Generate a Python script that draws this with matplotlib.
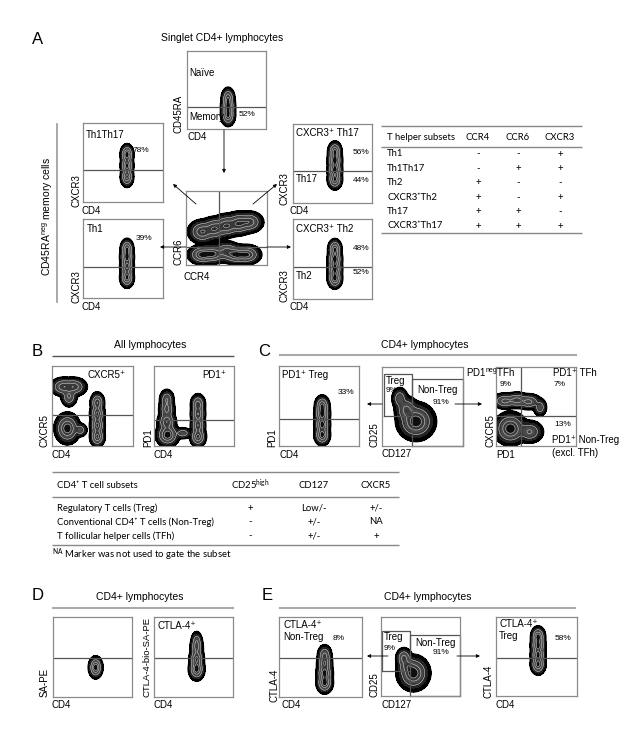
import numpy as np
import matplotlib
matplotlib.use("Agg")
import matplotlib.pyplot as plt

# ---- data: cell populations, (x, y, sx, sy, weight) in channel units 0-100 ----
pop_cd45ra = [(52, 18, 3.1, 4.8, 1.0), (52, 29, 3.1, 4.8, 1.0), (52, 39, 2.9, 4.8, 0.8)]
pop_ccr = [(20, 45, 6, 5.5, 0.8), (35, 49, 6, 5.5, 0.8), (50, 53, 6, 5.5, 0.8), (65, 56, 6, 5.5, 0.8),
           (78, 58, 6, 5, 0.7), (20, 14, 6, 4.5, 1.0), (33, 15, 6, 4.5, 0.9), (50, 18, 6, 5, 0.6),
           (62, 14, 6, 4.5, 0.9), (75, 14, 6, 4.5, 0.9)]
pop_th1th17 = [(55, 32, 2.8, 4.4, 0.8), (55, 46, 2.8, 4.4, 0.9), (55, 60, 2.8, 4.4, 1.0)]
pop_th1 = [(55, 26, 3.0, 4.4, 0.9), (55, 40, 3.0, 4.4, 0.8), (55, 52, 3.0, 4.4, 0.9), (55, 62, 2.8, 4.4, 0.8)]
pop_th17 = [(53, 30, 3.2, 4.4, 0.8), (53, 42, 3.2, 4.4, 0.9), (53, 54, 3.2, 4.4, 0.9), (53, 65, 3.0, 4.4, 0.8)]
pop_th2 = [(53, 26, 3.2, 4.4, 0.9), (53, 38, 3.2, 4.4, 0.9), (53, 50, 3.2, 4.4, 0.9), (53, 62, 3.0, 4.4, 0.8)]
pop_cxcr5_all = [(14, 74, 5.5, 4, 0.65), (27, 74, 5.5, 4, 0.65), (21, 62, 3.5, 4.5, 0.45),
                 (19, 22, 5.3, 6.5, 1.0), (35, 20, 3, 3, 0.3),
                 (56, 12, 3.2, 4.5, 0.8), (56, 26, 3.2, 4.5, 0.8), (56, 40, 3.2, 4.5, 0.8), (56, 54, 3.0, 4.5, 0.7)]
pop_pd1_all = [(17, 14, 5, 5, 1.0), (16, 30, 4, 5, 0.7), (16, 46, 3.5, 5, 0.5), (16, 58, 3.2, 4.5, 0.4),
               (55, 12, 3.5, 4.5, 0.8), (55, 26, 3.2, 4.5, 0.7), (55, 40, 3.2, 4.5, 0.7), (55, 52, 3.2, 4.5, 0.6),
               (36, 16, 4, 2.5, 0.3)]
pop_pd1_treg = [(54, 14, 3.4, 4.5, 0.9), (54, 27, 3.4, 4.5, 0.9), (54, 40, 3.4, 4.5, 0.9), (54, 50, 3.2, 4.5, 0.8)]
pop_cd25_c = [(42, 31, 8, 8, 1.0), (30, 46, 5, 6, 0.5), (22, 60, 3.5, 5, 0.35)]
pop_tfh = [(11, 57, 5.5, 3.5, 0.5), (26, 58, 5.5, 3.5, 0.55), (41, 56, 5.5, 3.5, 0.5), (55, 49, 3, 4, 0.3),
           (18, 22, 7, 7, 1.0), (42, 18, 6, 5, 0.45)]
pop_sape = [(54, 37, 3.0, 4.6, 1.0)]
pop_ctla4_bio = [(54, 35, 3.4, 4.8, 1.0), (54, 48, 3.2, 4.8, 0.8), (54, 62, 2.9, 4.8, 0.5), (54, 70, 2.5, 4.3, 0.3)]
pop_ctla4_conv = [(55, 18, 3.4, 4.6, 1.0), (55, 30, 3.4, 4.6, 0.9), (55, 42, 3.2, 4.6, 0.7), (55, 52, 3.0, 4.6, 0.5)]
pop_cd25_e = [(41, 29, 7, 7.5, 1.0), (29, 48, 3.5, 4.5, 0.55), (33, 38, 4.5, 4.5, 0.4)]
pop_ctla4_treg = [(52, 40, 3.2, 4.4, 0.9), (52, 52, 3.2, 4.4, 0.9), (52, 64, 3.2, 4.4, 0.9), (52, 75, 3.0, 4.4, 1.0)]

# gates (channel units)
gate_cd45ra = 28
gate_ccr4, gate_ccr6 = 41, 24
gate_cxcr3 = [40.5, 39, 40.5, 40]
gate_cxcr5_all, gate_pd1_all, gate_pd1_treg = 39, 32.5, 34
gate_treg_c = (2.5, 38, 37, 91)       # x0, y0, x1, y1
gate_nontreg_c = (37, 0, 100, 85)
gate_tfh_pd1, gate_tfh_cxcr5 = 31, 38
gate_ctla4 = [49, 49, 49, 48]
gate_treg_e = (1, 32, 37, 82)
gate_nontreg_e = (37, 0, 100, 77)

# tables
th_subsets = ["Th1", "Th1Th17", "Th2", "CXCR3\u207aTh2", "Th17", "CXCR3\u207aTh17"]
th_ccr4 = ["-", "-", "+", "+", "+", "+"]
th_ccr6 = ["-", "+", "-", "-", "+", "+"]
th_cxcr3 = ["+", "+", "-", "+", "-", "+"]
cd4_subsets = ["Regulatory T cells (Treg)", "Conventional CD4\u207a T cells (Non-Treg)",
               "T follicular helper cells (TFh)"]
cd4_cd25high = ["+", "-", "-"]
cd4_cd127 = ["Low/-", "+/-", "+/-"]
cd4_cxcr5 = ["+/-", "NA", "+"]

W, H = 642, 756
plt.rcParams["font.family"] = ["Liberation Sans", "DejaVu Sans"]
fig = plt.figure(figsize=(W / 100, H / 100), dpi=100)

BOX = "#8a8a8a"
GATE = "#555555"
FILLS = ["#000000", "#222222", "#3a3a3a", "#4a4a4a", "#444444", "#383838", "#262626", "#0e0e0e"]
LEVELS = [0.006, 0.04, 0.12, 0.25, 0.4, 0.55, 0.7, 0.85, 1.01]


def flow_axes(x0, y0, x1, y1):
    ax = fig.add_axes([x0 / W, 1 - y1 / H, (x1 - x0) / W, (y1 - y0) / H])
    ax.set_xlim(0, 100)
    ax.set_ylim(0, 100)
    ax.set_xticks([])
    ax.set_yticks([])
    ax.set_facecolor("none")
    for s in ax.spines.values():
        s.set_color(BOX)
        s.set_linewidth(0.9)
    return ax


def draw_pop(ax, pops):
    g = np.linspace(0, 100, 260)
    X, Y = np.meshgrid(g, g)
    Z = np.zeros_like(X)
    for x, y, sx, sy, w in pops:
        Z += w * np.exp(-((X - x) ** 2 / (2 * sx ** 2) + (Y - y) ** 2 / (2 * sy ** 2)))
    Z /= Z.max()
    ax.contourf(X, Y, Z, levels=LEVELS, colors=FILLS)
    ax.contour(X, Y, Z, levels=[LEVELS[2], LEVELS[4], LEVELS[6]], colors="#dddddd", linewidths=0.35)
    ax.contour(X, Y, Z, levels=LEVELS[:1], colors="black", linewidths=0.9)


def gate_rect(ax, r):
    x0, y0, x1, y1 = r
    ax.plot([x0, x0, x1, x1, x0], [y0, y1, y1, y0, y0], color=GATE, lw=0.9, clip_on=False)


# ---- panel A ----
ax = flow_axes(187, 51, 266, 129)
draw_pop(ax, pop_cd45ra)
ax.axhline(gate_cd45ra, color=GATE, lw=0.9)

ax = flow_axes(186, 191, 267, 265)
draw_pop(ax, pop_ccr)
ax.axhline(gate_ccr6, color=GATE, lw=0.9)
ax.axvline(gate_ccr4, color=GATE, lw=0.9)

boxes_a = [(83, 123, 163, 202), (83, 219, 163, 298), (293, 124, 372, 203), (293, 219, 372, 299)]
pops_a = [pop_th1th17, pop_th1, pop_th17, pop_th2]
for b, p, gy in zip(boxes_a, pops_a, gate_cxcr3):
    ax = flow_axes(*b)
    draw_pop(ax, p)
    ax.axhline(gy, color=GATE, lw=0.9)

# ---- panel B / C ----
ax = flow_axes(52, 366, 133, 446)
draw_pop(ax, pop_cxcr5_all)
ax.axhline(gate_cxcr5_all, color=GATE, lw=0.9)

ax = flow_axes(154, 366, 234, 446)
draw_pop(ax, pop_pd1_all)
ax.axhline(gate_pd1_all, color=GATE, lw=0.9)

ax = flow_axes(279, 366, 359, 446)
draw_pop(ax, pop_pd1_treg)
ax.axhline(gate_pd1_treg, color=GATE, lw=0.9)

ax = flow_axes(382, 367, 463, 446)
draw_pop(ax, pop_cd25_c)
gate_rect(ax, gate_treg_c)
gate_rect(ax, gate_nontreg_c)

ax = flow_axes(496, 367, 576, 446)
draw_pop(ax, pop_tfh)
ax.axhline(gate_tfh_cxcr5, color=GATE, lw=0.9)
ax.axvline(gate_tfh_pd1, color=GATE, lw=0.9)

# ---- panel D / E ----
boxes_de = [(53, 617, 132, 697), (154, 617, 233, 697), (279, 617, 362, 697), (496, 617, 577, 696)]
pops_de = [pop_sape, pop_ctla4_bio, pop_ctla4_conv, pop_ctla4_treg]
for b, p, gy in zip(boxes_de, pops_de, gate_ctla4):
    ax = flow_axes(*b)
    draw_pop(ax, p)
    ax.axhline(gy, color=GATE, lw=0.9)

ax = flow_axes(381, 617, 460, 696)
draw_pop(ax, pop_cd25_e)
gate_rect(ax, gate_treg_e)
gate_rect(ax, gate_nontreg_e)

# ---- overlay for text, arrows, tables ----
ov = fig.add_axes([0, 0, 1, 1])
ov.set_xlim(0, W)
ov.set_ylim(H, 0)
ov.axis("off")
ov.set_zorder(10)


def t(x, y, s, fs=7, ha="left", **kw):
    ov.text(x, y, s, fontsize=fs, ha=ha, va="center", **kw)


def pct(x, y, s):
    t(x, y, s, fs=6)


def ylab(x, ybot, s, fs=7):
    ov.text(x, ybot, s, fontsize=fs, rotation=90, ha="center", va="bottom")


def arrow(x0, y0, x1, y1):
    ov.annotate("", xy=(x1, y1), xytext=(x0, y0),
                arrowprops=dict(arrowstyle="-|>", lw=0.6, color="black",
                                mutation_scale=5, shrinkA=0, shrinkB=0))


def hline(x0, x1, y, color="#999999", lw=1.4):
    ov.plot([x0, x1], [y, y], color=color, lw=lw, solid_capstyle="butt")


PLUS = "\u207a"

# panel A texts
t(32, 40, "A", fs=12)
t(222, 38, "Singlet CD4+ lymphocytes", fs=7.5, ha="center")
t(189, 73, "Naïve")
t(189, 117, "Memory")
pct(239, 114, "52%")
ylab(179, 133, "CD45RA")
t(187, 137, "CD4")
ylab(178, 265, "CCR6")
t(183, 277, "CCR4")

t(86, 135, "Th1Th17")
pct(133, 151, "78%")
ylab(76, 207, "CXCR3")
t(82, 211, "CD4")
t(87, 229, "Th1")
pct(136, 239, "39%")
ylab(76, 303, "CXCR3")
t(82, 307, "CD4")

t(296, 133, "CXCR3" + PLUS + " Th17")
pct(353, 153, "56%")
t(296, 179, "Th17")
pct(353, 180, "44%")
ylab(284, 205, "CXCR3")
t(289, 211, "CD4")
t(296, 229, "CXCR3" + PLUS + " Th2")
pct(353, 248, "48%")
t(296, 276, "Th2")
pct(353, 272, "52%")
ylab(284, 302, "CXCR3")
t(289, 307, "CD4")

ov.text(48, 216, r"CD45RA$^{\mathregular{neg}}$ memory cells", fontsize=7.5,
        rotation=90, ha="center", va="center")
ov.plot([57, 57], [124, 302], color="#999999", lw=1.2)

arrow(224, 130, 224, 173)
arrow(196, 204, 173, 184)
arrow(253, 204, 277, 184)
arrow(186, 247, 160, 247)
arrow(267, 247, 291, 247)

# table A
tf = ["Lato", "DejaVu Sans"]
hline(381, 582, 126, color="#888888", lw=1.0)
hline(381, 582, 147, color="#888888", lw=1.0)
hline(381, 582, 233, color="#888888", lw=1.0)
t(387, 137, "T helper subsets", fs=6.8, family=tf)
col_x = [478, 518, 560]
for cx, name in zip(col_x, ["CCR4", "CCR6", "CXCR3"]):
    t(cx, 137, name, fs=6.8, ha="center", family=tf)
for i, name in enumerate(th_subsets):
    y = 154 + i * 14.4
    t(387, y, name, fs=6.8, family=tf)
    for cx, val in zip(col_x, [th_ccr4[i], th_ccr6[i], th_cxcr3[i]]):
        t(cx, y, val, fs=6.8, ha="center", family=tf)

# panel B / C texts
t(32, 352, "B", fs=12)
t(258, 352, "C", fs=12)
t(150, 345, "All lymphocytes", fs=7.5, ha="center")
hline(52, 234, 356, color="#555555", lw=1.0)
t(425, 345, "CD4+ lymphocytes", fs=7.5, ha="center")
hline(279, 577, 355, color="#aaaaaa", lw=1.5)

t(87, 375, "CXCR5" + PLUS)
ylab(45, 447, "CXCR5")
t(52, 455, "CD4")
t(202, 375, "PD1" + PLUS)
ylab(148, 447, "PD1")
t(154, 455, "CD4")

t(282, 375, "PD1" + PLUS + " Treg")
pct(338, 392, "33%")
ylab(272, 447, "PD1")
t(279, 455, "CD4")

t(386, 381, "Treg")
pct(386, 391, "9%")
t(417, 390, "Non-Treg")
pct(433, 403, "91%")
ylab(375, 447, "CD25")
t(382, 454, "CD127")
arrow(382, 404, 367, 404)
arrow(455, 404, 482, 404)

t(466, 373, r"PD1$^{\mathregular{neg}}$TFh")
pct(500, 384, "9%")
t(553, 373, "PD1" + PLUS + " TFh")
pct(554, 384, "7%")
pct(554, 425, "13%")
t(552, 440, "PD1" + PLUS + " Non-Treg")
t(552, 453, "(excl. TFh)")
ylab(490, 447, "CXCR5")
t(496, 455, "PD1")

# table B
hline(52, 399, 472, color="#888888", lw=1.0)
hline(52, 399, 497, color="#888888", lw=1.0)
hline(52, 399, 545, color="#888888", lw=1.0)
t(57, 485, "CD4" + PLUS + " T cell subsets", fs=6.8, family=tf)
col_x = [250, 314, 376]
for cx, name in zip(col_x, [r"CD25$^{\mathregular{high}}$", "CD127", "CXCR5"]):
    t(cx, 485, name, fs=6.8, ha="center", family=tf)
for i, name in enumerate(cd4_subsets):
    y = 508 + i * 14
    t(57, y, name, fs=6.8, family=tf)
    for cx, val in zip(col_x, [cd4_cd25high[i], cd4_cd127[i], cd4_cxcr5[i]]):
        t(cx, y, val, fs=6.8, ha="center", family=tf)
t(52, 555, r"$^{\mathregular{NA}}$ Marker was not used to gate the subset", fs=6.8, family=tf)

# panel D / E texts
t(32, 596, "D", fs=12)
t(262, 596, "E", fs=12)
t(140, 597, "CD4+ lymphocytes", fs=7.5, ha="center")
hline(52, 234, 608, color="#aaaaaa", lw=1.5)
t(428, 597, "CD4+ lymphocytes", fs=7.5, ha="center")
hline(279, 576, 608, color="#aaaaaa", lw=1.5)

ylab(45, 697, "SA-PE")
t(52, 705, "CD4")
t(158, 626, "CTLA-4" + PLUS)
ylab(147, 697, "CTLA-4-bio-SA-PE", fs=6.8)
t(154, 705, "CD4")

t(283, 625, "CTLA-4" + PLUS)
t(283, 637, "Non-Treg")
pct(333, 639, "8%")
ylab(275, 702, "CTLA-4")
t(281, 705, "CD4")

t(384, 637, "Treg")
pct(384, 648, "9%")
t(415, 643, "Non-Treg")
pct(433, 653, "91%")
ylab(375, 697, "CD25")
t(381, 705, "CD127")
arrow(388, 656, 367, 656)
arrow(457, 656, 480, 656)

t(499, 624, "CTLA-4" + PLUS)
t(499, 636, "Treg")
pct(555, 639, "58%")
ylab(489, 698, "CTLA-4")
t(496, 705, "CD4")

fig.savefig("out.png", dpi=100)
